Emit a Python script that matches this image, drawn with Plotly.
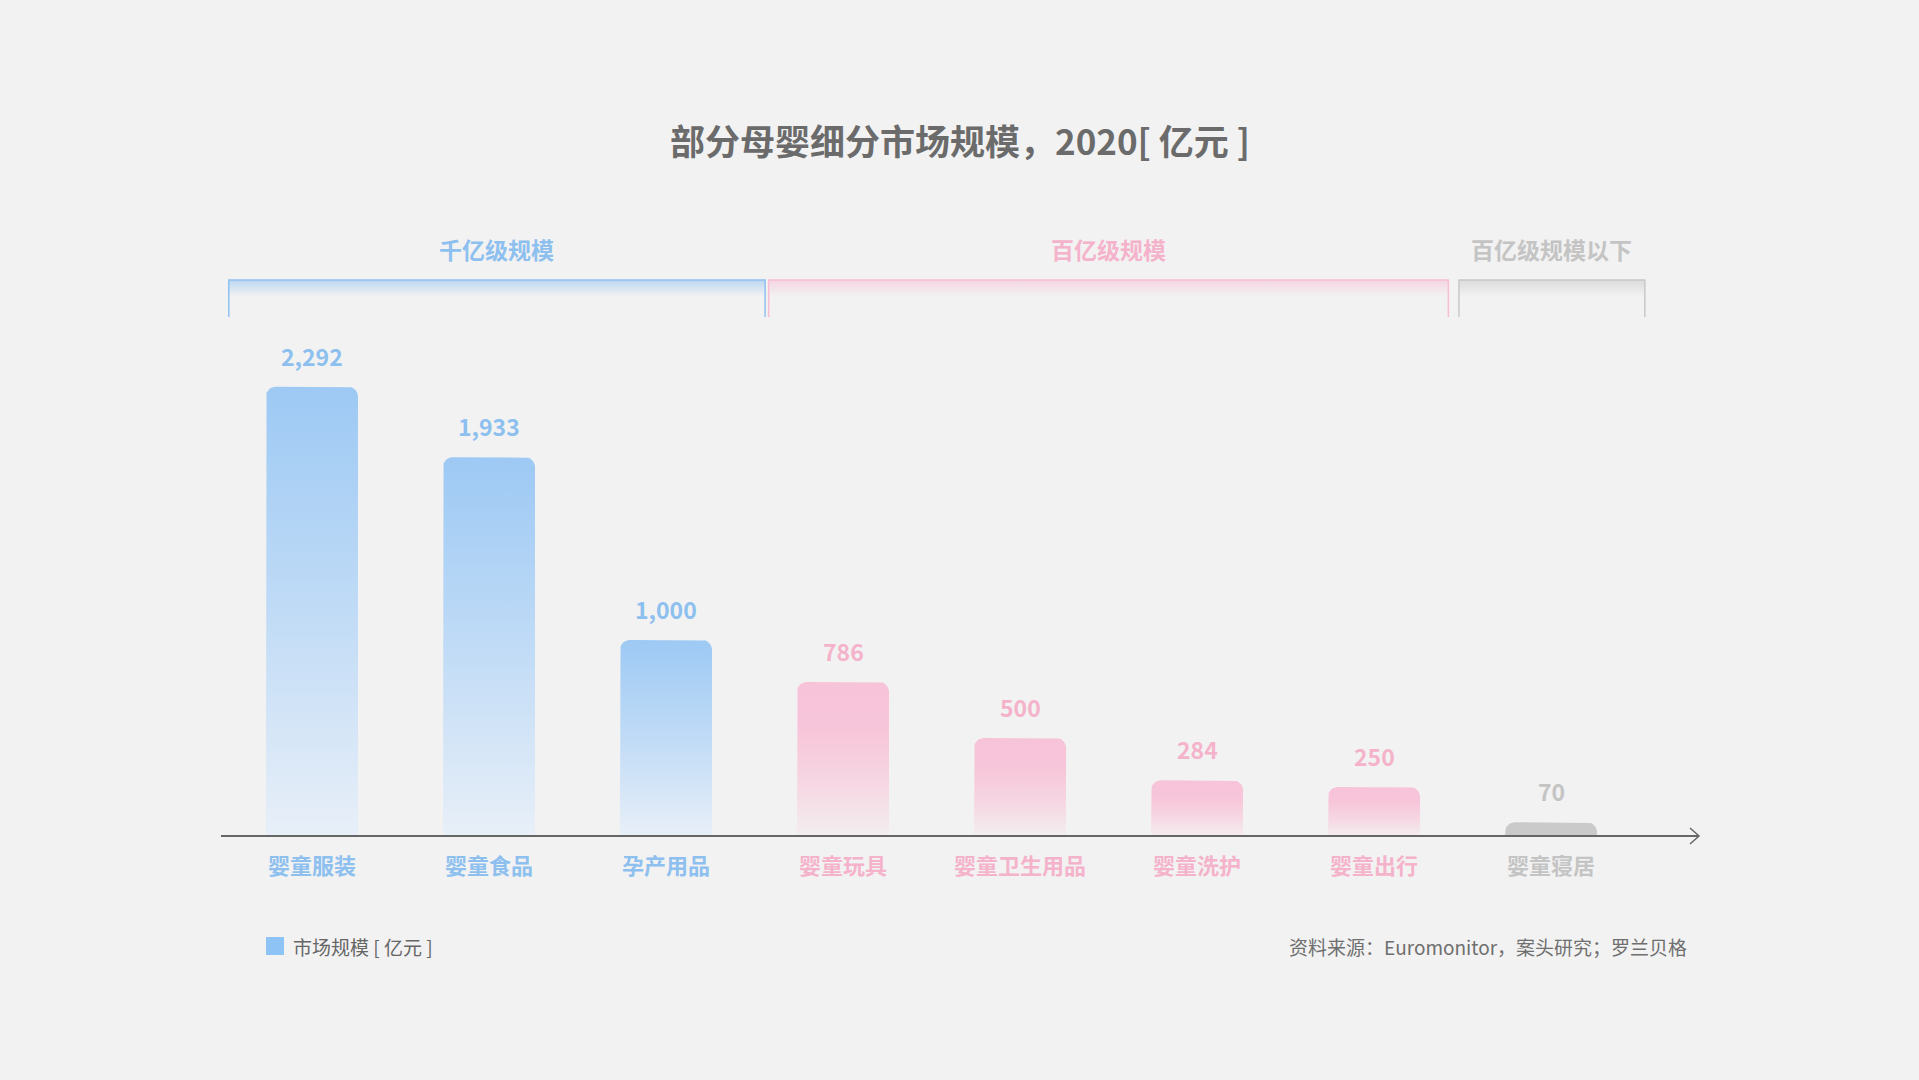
import numpy as np
import plotly.graph_objects as go

# ---------------------------------------------------------------- data
categories = ["婴童服装", "婴童食品", "孕产用品", "婴童玩具",
              "婴童卫生用品", "婴童洗护", "婴童出行", "婴童寝居"]
values = [2292, 1933, 1000, 786, 500, 284, 250, 70]
groups = ["千亿", "千亿", "千亿", "百亿", "百亿", "百亿", "百亿", "以下"]
group_names = ["千亿级规模", "百亿级规模", "百亿级规模以下"]
group_keys = ["千亿", "百亿", "以下"]

# ---------------------------------------------------------------- style
FONT = "Noto Sans CJK SC"
BG = "#f2f2f2"
W, H = 1919, 1080
ML, MR, MT, MB = 221, 220, 200, 200
BASE_PX = 836          # pixel row of the value axis
PX_PER_UNIT = 0.196
X_RANGE = [-0.514, 7.836]
Y_RANGE = [-(H - MB - BASE_PX) / PX_PER_UNIT, (BASE_PX - MT) / PX_PER_UNIT]

text_col = {"千亿": "#8dc0ef", "百亿": "#f5b3cb", "以下": "#c4c4c4"}
bar_scale = {
    "千亿": [[0, "rgba(232,239,248,1)"], [0.5, "rgba(192,219,246,1)"], [1, "rgba(157,201,244,1)"]],
    "百亿": [[0, "rgba(243,238,240,1)"], [0.35, "rgba(246,214,226,1)"], [0.7, "rgba(247,197,217,1)"], [1, "rgba(247,195,216,1)"]],
    "以下": [[0, "#cacaca"], [1, "#cacaca"]],
}
bracket_col = {"千亿": (143, 193, 240), "百亿": (247, 190, 212), "以下": (200, 200, 200)}

px_x = (W - ML - MR) / (X_RANGE[1] - X_RANGE[0])
px_y = PX_PER_UNIT


def rounded_bar(i, v, half=0.26, r=10):
    rx = r / px_x
    ry = min(r / px_y, v)
    t = np.linspace(0, np.pi / 2, 10)
    xs = [i - half]
    ys = [0]
    # left corner
    xs += list(i - half + rx - rx * np.cos(t))
    ys += list(v - ry + ry * np.sin(t))
    # right corner
    xs += list(i + half - rx + rx * np.sin(t))
    ys += list(v - ry + ry * np.cos(t))
    xs += [i + half, i - half]
    ys += [0, 0]
    return xs, ys


fig = go.Figure()

for i, (c, v, g) in enumerate(zip(categories, values, groups)):
    xs, ys = rounded_bar(i, v)
    fig.add_trace(go.Scatter(
        x=xs, y=ys, mode="lines", fill="toself",
        line=dict(width=0, color="rgba(0,0,0,0)"),
        fillgradient=dict(type="vertical", colorscale=bar_scale[g]),
        name=c, hoverinfo="skip", showlegend=False,
    ))
    fig.add_annotation(x=i, y=v, yanchor="bottom", yshift=12, showarrow=False,
                       text="<b>{:,}</b>".format(v),
                       font=dict(family=FONT, size=23, color=text_col[g]))
    fig.add_annotation(x=i, y=0, yanchor="top", yshift=-10, showarrow=False,
                       text="<b>%s</b>" % c,
                       font=dict(family=FONT, size=22, color=text_col[g]))

# group brackets on top
edges = {"千亿": (-0.47, 2.56), "百亿": (2.58, 6.42), "以下": (6.48, 7.53)}
br_top = (BASE_PX - 280) / px_y
br_bot = (BASE_PX - 317) / px_y
for key, name in zip(group_keys, group_names):
    x0, x1 = edges[key]
    r, g_, b = bracket_col[key]
    fig.add_trace(go.Scatter(
        x=[x0, x1, x1, x0, x0], y=[br_bot, br_bot, br_top, br_top, br_bot],
        mode="lines", fill="toself", line=dict(width=0, color="rgba(0,0,0,0)"),
        fillgradient=dict(type="vertical", colorscale=[
            [0, "rgba(%d,%d,%d,0)" % (r, g_, b)],
            [0.55, "rgba(%d,%d,%d,0)" % (r, g_, b)],
            [1, "rgba(%d,%d,%d,0.55)" % (r, g_, b)]]),
        hoverinfo="skip", showlegend=False,
    ))
    fig.add_trace(go.Scatter(
        x=[x0, x0, x1, x1], y=[br_bot, br_top, br_top, br_bot],
        mode="lines", line=dict(width=1.5, color="rgb(%d,%d,%d)" % (r, g_, b)),
        hoverinfo="skip", showlegend=False,
    ))
    fig.add_annotation(x=(x0 + x1) / 2, y=br_top, yanchor="bottom", yshift=12,
                       showarrow=False, text="<b>%s</b>" % name,
                       font=dict(family=FONT, size=23, color=text_col[key]))

# x axis line with open arrow
fig.add_shape(type="line", xref="paper", yref="y", x0=0, x1=1, y0=0, y1=0,
              line=dict(color="#666666", width=2))
fig.add_shape(type="path", xref="paper", yref="y", xsizemode="pixel", ysizemode="pixel",
              xanchor=1, yanchor=0, path="M -9 -8 L 0 0 L -9 8",
              line=dict(color="#666666", width=1.5))

# title, legend, source
fig.add_annotation(xref="paper", yref="paper", x=0.5, y=1, yanchor="middle",
                   yshift=MT - 139, showarrow=False,
                   text="<b>部分母婴细分市场规模，2020[ 亿元 ]</b>",
                   font=dict(family=FONT, size=35, color="#6b6b6b"))
foot_px = H - MB - 946   # footer row relative to the bottom of the plot area
fig.add_shape(type="rect", xref="paper", yref="paper", xsizemode="pixel", ysizemode="pixel",
              xanchor=0, yanchor=0, x0=45, x1=63, y0=foot_px + 9, y1=foot_px - 9,
              fillcolor="#8ec3f5", line=dict(width=0))
fig.add_annotation(xref="paper", yref="y", x=0, y=0, xanchor="left", yanchor="middle",
                   xshift=70, yshift=-110, showarrow=False, text="市场规模 [ 亿元 ]",
                   font=dict(family=FONT, size=19, color="#666666"))
fig.add_annotation(xref="paper", yref="y", x=1, y=0, xanchor="right", yanchor="middle",
                   xshift=-10, yshift=-110, showarrow=False,
                   text="资料来源：Euromonitor，案头研究；罗兰贝格",
                   font=dict(family=FONT, size=19, color="#6f6f6f"))

fig.update_layout(
    width=W, height=H,
    margin=dict(l=ML, r=MR, t=MT, b=MB),
    paper_bgcolor=BG, plot_bgcolor=BG,
    showlegend=False,
    xaxis=dict(range=X_RANGE, visible=False, fixedrange=True),
    yaxis=dict(range=Y_RANGE, visible=False, fixedrange=True),
)

fig.write_html("out.html", config={"displayModeBar": False},
               post_script="document.body.style.margin='0';"
                           "document.body.style.background='%s';" % BG)
